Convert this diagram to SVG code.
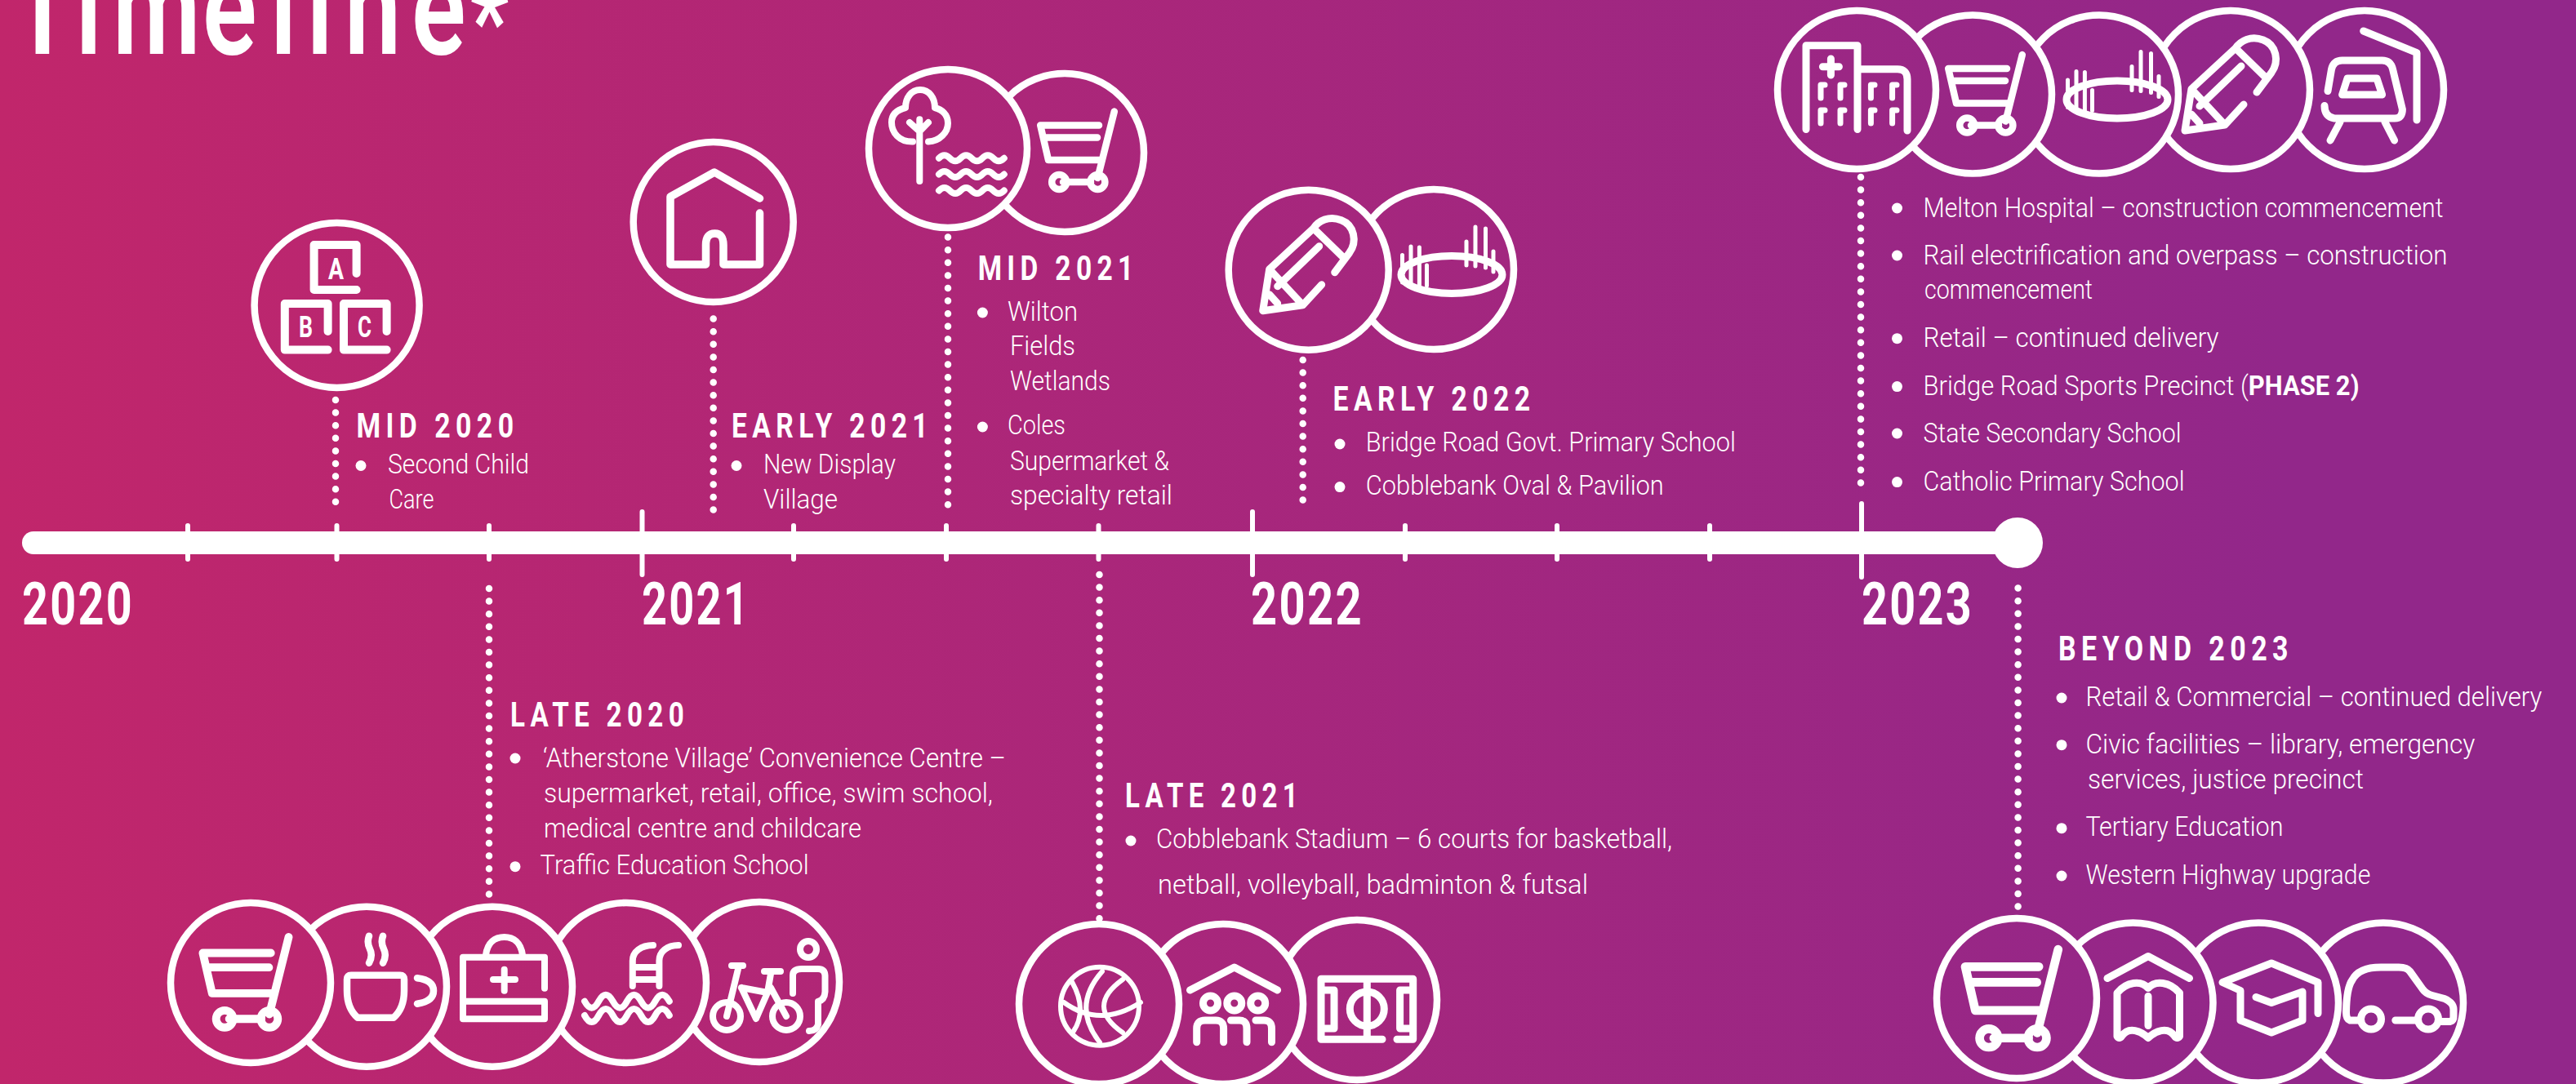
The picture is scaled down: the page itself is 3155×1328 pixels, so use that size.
<svg xmlns="http://www.w3.org/2000/svg" xmlns:xlink="http://www.w3.org/1999/xlink" width="3155" height="1328" viewBox="0 0 3155 1328">
<style>
text{fill:#fff;font-family:"Roboto","Liberation Sans",sans-serif}
.b{font-size:34px;font-weight:300}
.h{font-size:42px;font-weight:700;letter-spacing:8px}
.y{font-size:73px;font-weight:700;letter-spacing:3px}
.t{font-size:165px;font-weight:600}
.l{font-size:37px;font-weight:700}
.c{fill:url(#bg);stroke:#fff;stroke-width:8.5}
.i{fill:none;stroke:#fff;stroke-width:9;stroke-linecap:round;stroke-linejoin:round}
.i2{fill:none;stroke:#fff;stroke-width:5;stroke-linecap:round}
.d{fill:none;stroke:#fff;stroke-width:8.5;stroke-linecap:round;stroke-dasharray:0 15.6}
.k{stroke:#fff;stroke-width:6;stroke-linecap:round}
.bu{fill:#fff}
</style>
<defs>
<linearGradient id="bg" gradientUnits="userSpaceOnUse" x1="0" y1="0" x2="2800" y2="0">
<stop offset="0" stop-color="#c1266b"/><stop offset="1" stop-color="#92278a"/>
</linearGradient>
<g id="cart" class="i" style="stroke-width:8.5">
<path d="M60.8,-50.4 L40.4,31M42,-33.6 H-29.8 L-20,9 H46M-26,-18.4 H40M-2,36 H32"/>
<circle cx="-6.8" cy="36" r="9"/><circle cx="40.4" cy="36" r="9"/>
</g>
<g id="pencil" class="i">
<path d="M32,3 L50,-21 C60,-35 56,-55 40,-61 C25,-67 12,-60 6,-51 L-48,-1 L-56,50 L-7,43 L16,18M6,-51 L44,-14M13,-29 L-38,20M-48,-1 L-7,43M-48,30 L-38,41"/>
</g>
<g id="oval">
<ellipse class="i" cx="22" cy="6.5" rx="62" ry="23"/>
<path class="i2" d="M-38.5,-17.5V16M-28,-28V20M-17.6,-27V20M-8.5,-5V20M40,-34V-5M51,-52V-4M63.5,-50V-2M73,-22V3"/>
</g>
</defs>
<rect id="background" width="3155" height="1328" fill="url(#bg)"/>
<text id="title" class="t" transform="translate(0,66) scale(0.75,1)" x="18.700 123.300 184 330.700 441.300 500.700 562.700 672" y="0">Timeline<tspan x="768" dy="8" font-size="140">*</tspan></text>

<g id="connectors">
<line x1="41" y1="665" x2="2470" y2="665" stroke="#fff" stroke-width="28" stroke-linecap="round"/>
<path class="k" d="M230,644V685M412.500,644V685M599,644V685M786.500,627V704M972,644V685M1159,644V685M1345.500,644V685M1534,627V704M1721,644V685M1907,644V685M2094,644V685M2280,617V707"/>
<path class="d" d="M411,490V622"/>
<path class="d" d="M873.700,390.600V626"/>
<path class="d" d="M1161,290.600V622"/>
<path class="d" d="M1595.700,441V622"/>
<path class="d" d="M2279,217V607"/>
<path class="d" d="M599,721V1098"/>
<path class="d" d="M1346.500,704V1126"/>
<path class="d" d="M2471.600,720.600V1113"/>
</g>
<circle id="end-cap" cx="2471" cy="665" r="31" fill="#fff"/>

<g id="years">
<text class="y" x="27" y="765" textLength="137" lengthAdjust="spacingAndGlyphs">2020</text>
<text class="y" x="786" y="765" textLength="133" lengthAdjust="spacingAndGlyphs">2021</text>
<text class="y" x="1532" y="765" textLength="138" lengthAdjust="spacingAndGlyphs">2022</text>
<text class="y" x="2280" y="765" textLength="137" lengthAdjust="spacingAndGlyphs">2023</text>
</g>

<g id="mid-2020">
<circle class="c" cx="412.600" cy="374" r="101"/>
<g transform="translate(412.600,374)" class="i" style="stroke-width:10">
<path d="M24,-39V-74H-28V-19H24M-11,32V-2H-63.800V54.600H-11M61,32V-2H8.400V54.600H61"/>
</g>
<text class="l" x="402" y="341.500" textLength="19" lengthAdjust="spacingAndGlyphs">A</text>
<text class="l" x="366" y="413" textLength="17" lengthAdjust="spacingAndGlyphs">B</text>
<text class="l" x="438" y="413" textLength="17" lengthAdjust="spacingAndGlyphs">C</text>
<text class="h" x="436.500" y="536" textLength="199" lengthAdjust="spacingAndGlyphs">MID 2020</text>
<circle class="bu" cx="442" cy="570.500" r="6.500"/>
<text class="b" x="475" y="580" textLength="173" lengthAdjust="spacingAndGlyphs">Second Child</text>
<text class="b" x="476.500" y="623" textLength="55" lengthAdjust="spacingAndGlyphs">Care</text>
</g>

<g id="early-2021">
<circle class="c" cx="873.700" cy="272" r="98"/>
<path class="i" style="stroke-width:9.500" d="M930.500,243L875,211L821,241V324H864.500V300Q864.500,286 875.500,286Q886,286 886,300V324H930.500V261"/>
<text class="h" x="896" y="536" textLength="247" lengthAdjust="spacingAndGlyphs">EARLY 2021</text>
<circle class="bu" cx="902" cy="570.500" r="6.500"/>
<text class="b" x="935" y="580" textLength="162" lengthAdjust="spacingAndGlyphs">New Display</text>
<text class="b" x="935" y="623" textLength="91" lengthAdjust="spacingAndGlyphs">Village</text>
</g>

<g id="mid-2021">
<circle class="c" cx="1304" cy="187" r="97"/>
<use xlink:href="#cart" href="#cart" transform="translate(1304,187)"/>
<circle class="c" cx="1161" cy="182" r="97"/>
<g transform="translate(1161,182)" class="i" style="stroke-width:8">
<path d="M-34.700,-35.700V40M-34.700,-21L-47,-32M-34.700,-21L-24,-32M-43,-8.400C-60,-8 -69,-20 -69,-32C-69,-44 -60,-48 -52,-50C-52,-62 -45,-72 -34,-72C-23,-72 -16,-62 -16,-50C-8,-48 0,-42 0,-31C0,-20 -10,-9 -24,-8.400"/>
<path d="M-11,11.800q6.600,-7 13.300,0t13.300,0t13.300,0t13.300,0t13.300,0t13.300,0M-11,31.600q6.600,-7 13.300,0t13.300,0t13.300,0t13.300,0t13.300,0t13.300,0M-11,51.400q6.600,-7 13.300,0t13.300,0t13.300,0t13.300,0t13.300,0t13.300,0"/>
</g>
<text class="h" x="1197.700" y="343" textLength="197" lengthAdjust="spacingAndGlyphs">MID 2021</text>
<circle class="bu" cx="1203.400" cy="383" r="6.500"/>
<text class="b" x="1234" y="392.500" textLength="86" lengthAdjust="spacingAndGlyphs">Wilton</text>
<text class="b" x="1237" y="434.600" textLength="80" lengthAdjust="spacingAndGlyphs">Fields</text>
<text class="b" x="1237" y="478" textLength="123" lengthAdjust="spacingAndGlyphs">Wetlands</text>
<circle class="bu" cx="1203.400" cy="523" r="6.500"/>
<text class="b" x="1234" y="532" textLength="71" lengthAdjust="spacingAndGlyphs">Coles</text>
<text class="b" x="1237" y="575.600" textLength="195" lengthAdjust="spacingAndGlyphs">Supermarket &amp;</text>
<text class="b" x="1237" y="618" textLength="199" lengthAdjust="spacingAndGlyphs">specialty retail</text>
</g>

<g id="early-2022">
<circle class="c" cx="1756" cy="330" r="98"/>
<use xlink:href="#oval" href="#oval" transform="translate(1756,330)"/>
<circle class="c" cx="1602.700" cy="330.700" r="98"/>
<use xlink:href="#pencil" href="#pencil" transform="translate(1602.700,330.700)"/>
<text class="h" x="1632.600" y="503" textLength="248" lengthAdjust="spacingAndGlyphs">EARLY 2022</text>
<circle class="bu" cx="1641" cy="544" r="6.500"/>
<text class="b" x="1672.800" y="553" textLength="453" lengthAdjust="spacingAndGlyphs">Bridge Road Govt. Primary School</text>
<circle class="bu" cx="1641" cy="596.600" r="6.500"/>
<text class="b" x="1672.800" y="606" textLength="365" lengthAdjust="spacingAndGlyphs">Cobblebank Oval &amp; Pavilion</text>
</g>

<g id="year-2023">
<circle class="c" cx="2896" cy="110" r="97"/>
<g transform="translate(2896,110)" class="i">
<path d="M-1.300,-72L64,-45.300V37M-45,1.600L-40.500,-25Q-38,-36 -27.400,-36H21.600Q32,-36 34.600,-25L46.400,24Q46.400,35 37,35H-37Q-49,33 -49,19.500M-21,-14H15L21.600,6H-27.400ZM-30,39.500L-42,62M25,39.500L36.600,62"/>
</g>
<circle class="c" cx="2732" cy="110" r="97"/>
<use xlink:href="#pencil" href="#pencil" transform="translate(2732,110)"/>
<circle class="c" cx="2571" cy="115.500" r="97"/>
<use xlink:href="#oval" href="#oval" transform="translate(2571,115.500)"/>
<circle class="c" cx="2416" cy="115.500" r="97"/>
<use xlink:href="#cart" href="#cart" transform="translate(2416,117.500)"/>
<circle class="c" cx="2274" cy="110" r="97"/>
<g transform="translate(2274,110)" class="i">
<path d="M-62,48.500V-54.200H1V48.500M1,-25.200H50Q62,-25.200 62,-13V50M-31.600,-38V-18M-41.600,-28.300H-21.600"/>
<path style="stroke-width:7" d="M-44,10V-6H-39M-20,10V-6H-15M17.400,10V-6H22M43.600,10V-6H49M-44,41V25H-39M-20,41V25H-15M17.400,41V25H22M43.600,41V25H49"/>
</g>
<circle class="bu" cx="2323.500" cy="255" r="6.500"/>
<text class="b" x="2355.500" y="265.600" textLength="637" lengthAdjust="spacingAndGlyphs">Melton Hospital – construction commencement</text>
<circle class="bu" cx="2323.500" cy="313" r="6.500"/>
<text class="b" x="2355.500" y="323.600" textLength="642" lengthAdjust="spacingAndGlyphs">Rail electrification and overpass – construction</text>
<text class="b" x="2357" y="366" textLength="206" lengthAdjust="spacingAndGlyphs">commencement</text>
<circle class="bu" cx="2323.500" cy="414.700" r="6.500"/>
<text class="b" x="2355.500" y="425" textLength="362" lengthAdjust="spacingAndGlyphs">Retail – continued delivery</text>
<circle class="bu" cx="2323.500" cy="473.600" r="6.500"/>
<text class="b" x="2355.500" y="483.500" textLength="534" lengthAdjust="spacingAndGlyphs">Bridge Road Sports Precinct (<tspan font-weight="700">PHASE 2)</tspan></text>
<circle class="bu" cx="2323.500" cy="531" r="6.500"/>
<text class="b" x="2355.500" y="542" textLength="316" lengthAdjust="spacingAndGlyphs">State Secondary School</text>
<circle class="bu" cx="2323.500" cy="590.600" r="6.500"/>
<text class="b" x="2355.500" y="600.500" textLength="320" lengthAdjust="spacingAndGlyphs">Catholic Primary School</text>
</g>

<g id="late-2020">
<text class="h" x="625" y="890" textLength="219" lengthAdjust="spacingAndGlyphs">LATE 2020</text>
<circle class="bu" cx="631" cy="929" r="6.500"/>
<text class="b" x="665" y="940" textLength="567" lengthAdjust="spacingAndGlyphs">‘Atherstone Village’ Convenience Centre –</text>
<text class="b" x="666" y="983" textLength="550" lengthAdjust="spacingAndGlyphs">supermarket, retail, office, swim school,</text>
<text class="b" x="666" y="1025.700" textLength="389" lengthAdjust="spacingAndGlyphs">medical centre and childcare</text>
<circle class="bu" cx="631" cy="1061.700" r="6.500"/>
<text class="b" x="661.600" y="1070.700" textLength="329" lengthAdjust="spacingAndGlyphs">Traffic Education School</text>
<circle class="c" cx="930" cy="1203" r="98"/>
<g transform="translate(930,1203)" class="i" style="stroke-width:8">
<circle cx="-40" cy="42" r="17"/><circle cx="33" cy="42" r="17"/><circle cx="60" cy="-40" r="10"/>
<path d="M-40,42L-25,-20M-34,-20H-20M-22,7L10,13M-22,7L-4,45L10,13M10,13L14,-10M6,-13H26M14,7L33,42M41,14V-8Q41,-16 52,-16H72Q80,-16 80.500,-8V12Q80,22 72,24V52Q70,60 61,60"/>
</g>
<circle class="c" cx="767" cy="1204" r="98"/>
<g transform="translate(767,1204)" class="i" style="stroke-width:8">
<path d="M7.800,4V-27C7.800,-38 18,-46 33,-46M40.400,4V-27C40.400,-38 50,-46 64,-46M7.800,-19H40.400M7.800,-4H40.400"/>
<path d="M-51,22.700q8.700,16 17.300,0t17.300,0t17.300,0t17.300,0t17.300,0t17.300,0M-51,40q8.700,16 17.300,0t17.300,0t17.300,0t17.300,0t17.300,0t17.300,0"/>
</g>
<circle class="c" cx="603" cy="1208.700" r="98"/>
<g transform="translate(603,1208.700)" class="i" style="stroke-width:8">
<path d="M64,2V-36H-36V39.600H64V18H-36M-8,-38.700C-6,-54 3,-60.700 14.700,-60.700C26,-60.700 35,-54 37,-38.700M14.700,-21V5M1,-8.700H28"/>
</g>
<circle class="c" cx="449" cy="1208.700" r="98"/>
<g transform="translate(449,1208.700)" class="i" style="stroke-width:8.500">
<path d="M-19,-14H41Q46,-14 46,-9V5C46,20 41,31 33,38H-11C-19,31 -24,20 -24,5V-9Q-24,-14 -19,-14ZM62,-10.500Q82,-8 82,5Q82,18 62,21M3,-62Q0,-54 4,-46T3,-29M20,-62Q17,-54 21,-46T20,-29"/>
</g>
<circle class="c" cx="307" cy="1204" r="98"/>
<use xlink:href="#cart" href="#cart" transform="translate(283,1206.500) scale(1.160)"/>
</g>

<g id="late-2021">
<text class="h" x="1378" y="989" textLength="218" lengthAdjust="spacingAndGlyphs">LATE 2021</text>
<circle class="bu" cx="1385" cy="1030" r="6.500"/>
<text class="b" x="1416" y="1039" textLength="632" lengthAdjust="spacingAndGlyphs">Cobblebank Stadium – 6 courts for basketball,</text>
<text class="b" x="1418" y="1094.700" textLength="527" lengthAdjust="spacingAndGlyphs">netball, volleyball, badminton &amp; futsal</text>
<circle class="c" cx="1662" cy="1225" r="98"/>
<g transform="translate(1662,1225)" class="i">
<path d="M31,48.300H-44V-25.700H68.700V48.300H49M12.300,-25.700V48.300M-44,-12H-28V35H-44M68.700,-12H52.600V35H68.700"/>
<circle cx="12.300" cy="11" r="21"/>
</g>
<circle class="c" cx="1498" cy="1230" r="98"/>
<g transform="translate(1498,1230)" class="i">
<path d="M-40.500,-17L13.800,-45L66.600,-17M-32.300,46.700V30Q-32.300,20 -22,20H-9Q0.600,20 0.600,30V46.700M9.500,20H20Q29,20 29,30V46.700M40,20H50Q59.500,20 59.500,30V46.700"/>
<circle cx="-15.500" cy="-1" r="9"/><circle cx="13.800" cy="-1" r="9"/><circle cx="42.700" cy="-1" r="9"/>
</g>
<circle class="c" cx="1346" cy="1230" r="98"/>
<g transform="translate(1346,1230)" class="i" style="stroke-width:6">
<circle cx="1" cy="2.700" r="48"/>
<path d="M-43,-2Q1,30 51,-2M-33,-27Q-14,7 -31,33M4,-40Q-34,3 1,47M29,-30Q-17,3 29,35"/>
</g>
</g>

<g id="beyond-2023">
<text class="h" x="2521" y="808.700" textLength="288" lengthAdjust="spacingAndGlyphs">BEYOND 2023</text>
<circle class="bu" cx="2525" cy="855" r="6.500"/>
<text class="b" x="2554.400" y="865" textLength="559" lengthAdjust="spacingAndGlyphs">Retail &amp; Commercial – continued delivery</text>
<circle class="bu" cx="2525" cy="912.700" r="6.500"/>
<text class="b" x="2554.400" y="922.700" textLength="477" lengthAdjust="spacingAndGlyphs">Civic facilities – library, emergency</text>
<text class="b" x="2557" y="965.700" textLength="338" lengthAdjust="spacingAndGlyphs">services, justice precinct</text>
<circle class="bu" cx="2525" cy="1014.700" r="6.500"/>
<text class="b" x="2554.400" y="1024" textLength="242" lengthAdjust="spacingAndGlyphs">Tertiary Education</text>
<circle class="bu" cx="2525" cy="1073" r="6.500"/>
<text class="b" x="2554.400" y="1083" textLength="349" lengthAdjust="spacingAndGlyphs">Western Highway upgrade</text>
<circle class="c" cx="2919" cy="1228.500" r="98"/>
<g transform="translate(2919,1228.500)" class="i">
<path d="M-28,21.500H-41Q-45.500,20 -45.500,11.500Q-45,-18.500 -38,-28Q-30,-43.500 -3,-43.500H19Q29,-43.500 32.600,-38.500L48,-17Q52,-11 60,-9L75,-5Q86,0 86,8V17Q86,23 80,23H68M14.800,21.500H41"/>
<circle cx="-15" cy="20" r="12.500"/><circle cx="55" cy="20" r="12.500"/>
</g>
<circle class="c" cx="2766" cy="1228.500" r="98"/>
<g transform="translate(2766,1228.500)" class="i">
<path d="M73,13V-25L16,-48.500L-44,-25L-22,-15V21.500L16,36.500L54,21.500V-13.500L16,0L-3,-7"/>
</g>
<circle class="c" cx="2612.500" cy="1228.500" r="98"/>
<g transform="translate(2612.500,1228.500)" class="i">
<path d="M-31.500,-30L18.500,-57L69,-30M18.500,-8V28M18.500,-18C10,-28 -8,-26 -19.500,-12V41Q-17,45 -14,41C-5,28 10,35 18.500,43C27,35 42,28 51,41Q54,45 57,41V-12C45,-26 27,-28 18.500,-18Z"/>
</g>
<circle class="c" cx="2470" cy="1223" r="98"/>
<use xlink:href="#cart" href="#cart" transform="translate(2444.400,1226.500) scale(1.256)"/>
</g>
</svg>
